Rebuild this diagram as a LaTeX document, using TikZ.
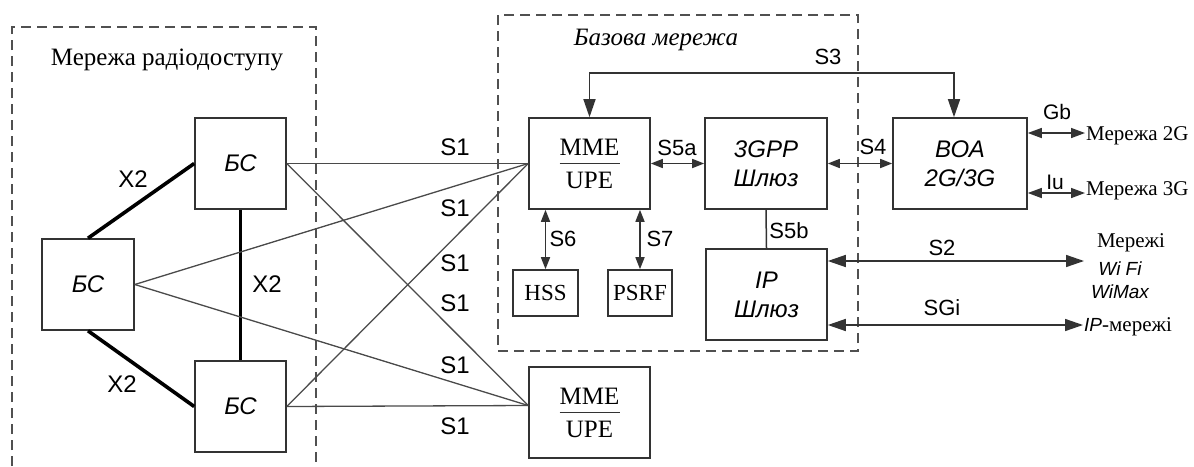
\documentclass[tikz,border=0pt]{standalone}
\usepackage{fontspec}
\setmainfont{Liberation Serif}
\newfontfamily\sansf{Liberation Sans}
\usetikzlibrary{arrows.meta,calc}
\definecolor{boxc}{HTML}{333333}
\definecolor{linec}{HTML}{4A4A4A}
\definecolor{dashc}{HTML}{505050}
\begin{document}
\begin{tikzpicture}[x=1pt,y=-1pt,
 box/.style={draw=boxc,line width=1.6pt,inner sep=0pt,align=center,font=\sansf\itshape\fontsize{24}{29}\selectfont},
 mbox/.style={draw=boxc,line width=1.6pt,inner sep=0pt,align=center,font=\fontsize{25}{33}\selectfont},
 sbox/.style={draw=boxc,line width=1.6pt,inner sep=0pt,font=\fontsize{23}{26}\selectfont},
 lbl/.style={font=\sansf\fontsize{22}{24}\selectfont,inner sep=0pt},
 s1lbl/.style={font=\sansf\fontsize{24}{26}\selectfont,inner sep=0pt},
 s1/.style={draw=linec,line width=1.3pt},
 x2/.style={draw=black,line width=3.6pt},
 link/.style={draw=boxc,line width=1.5pt},
 dbl/.style={link,{Triangle[length=12pt,width=9pt]}-{Triangle[length=12pt,width=9pt]}},
 dblL/.style={link,{Triangle[length=18pt,width=12pt]}-{Triangle[length=18pt,width=12pt]}},
 area/.style={draw=dashc,line width=1.8pt,dash pattern=on 10pt off 6pt},
 ntext/.style={font=\fontsize{21}{24}\selectfont,inner sep=1pt},
 itext/.style={font=\sansf\itshape\fontsize{19}{22}\selectfont,inner sep=1pt},
]
\useasboundingbox (0,0) rectangle (1194,466);
\fill[white] (0,0) rectangle (1194,466);

% areas
\draw[area] (12,466) -- (12,27) -- (316,27) -- (316,466);
\node[font=\fontsize{25}{28}\selectfont] (ran) at (167,60) {Мережа радіодоступу};
\draw[area] (498,15) rectangle (858,351);
\node[font=\itshape\fontsize{25}{28}\selectfont] (core) at (656,40) {Базова мережа};

% base stations
\node[box,minimum width=91pt,minimum height=91pt] (bs1) at (240.5,163.5) {БС};
\node[box,minimum width=92pt,minimum height=91pt] (bs2) at (88,284.5) {БС};
\node[box,minimum width=91pt,minimum height=91pt] (bs3) at (240.5,406.5) {БС};

% core nodes
\node[mbox,minimum width=121pt,minimum height=91pt] (mme1) at (589.5,163.5) {MME\\UPE};
\node[mbox,minimum width=121pt,minimum height=91pt] (mme2) at (589.5,412.5) {MME\\UPE};
\draw[line width=1.5pt,boxc] ([xshift=-30pt]mme1.center) -- ([xshift=30pt]mme1.center);
\draw[line width=1.5pt,boxc] ([xshift=-30pt]mme2.center) -- ([xshift=30pt]mme2.center);
\node[box,minimum width=122pt,minimum height=91pt] (gw3) at (766,163.5) {3GPP\\Шлюз};
\node[box,minimum width=121pt,minimum height=91pt] (ipgw) at (766.5,294.5) {IP\\Шлюз};
\node[box,minimum width=134pt,minimum height=91pt] (boa) at (960,163.5) {ВОА\\2G/3G};
\node[sbox,minimum width=65pt,minimum height=46pt] (hss) at (545.5,293) {HSS};
\node[sbox,minimum width=64pt,minimum height=46pt] (psrf) at (640,293) {PSRF};

% X2
\draw[x2] (bs2.north) -- (bs1.west);
\draw[x2] (bs1.south) -- (bs3.north);
\draw[x2] (bs2.south) -- (bs3.west);
\node[s1lbl] (x2a) at (133,179) {X2};
\node[s1lbl] (x2b) at (267,284) {X2};
\node[s1lbl] (x2c) at (122,384) {X2};

% S1
\coordinate (m2in) at ([yshift=7pt]mme2.west);
\draw[s1] (bs1.east) -- (mme1.west);
\draw[s1] (bs2.east) -- (mme1.west);
\draw[s1] (bs3.east) -- (mme1.west);
\draw[s1] (bs1.east) -- (m2in);
\draw[s1] (bs2.east) -- (m2in);
\draw[s1] (bs3.east) -- (m2in);
\foreach \yy/\nn in {147/a,208/b,263/c,303/d,365/e,426/f}{
  \node[s1lbl] (s1\nn) at (455,\yy) {S1};
}

% S3
\coordinate (s3a) at (589.5,73);
\coordinate (s3b) at (954,73);
\draw[link,{Triangle[length=18pt,width=12pt]}-{Triangle[length=18pt,width=12pt]}] (mme1.north) -- (s3a) -- (s3b) -- (s3b |- boa.north);
\node[lbl] (s3l) at (828,57) {S3};

% S5a, S4, S5b
\draw[dbl] (mme1.east) -- (gw3.west);
\node[lbl] (s5al) at (677,148) {S5a};
\draw[dbl] (gw3.east) -- (boa.west);
\node[lbl] (s4l) at (873,147) {S4};
\draw[link] (gw3.south) -- (ipgw.north);
\node[lbl] (s5bl) at (789,231) {S5b};

% S6, S7
\draw[dbl] (mme1.south -| hss.north) -- (hss.north);
\node[lbl] (s6l) at (563,239) {S6};
\draw[dbl] (mme1.south -| psrf.north) -- (psrf.north);
\node[lbl] (s7l) at (660,239) {S7};

% external networks
\node[ntext,anchor=west] (n2g) at (1085,136) {Мережа 2G};
\node[ntext,anchor=west] (n3g) at (1085,191) {Мережа 3G};
\draw[link,{Triangle[length=14pt,width=10pt]}-{Triangle[length=14pt,width=10pt]}] (boa.east |- 0,133) -- (n2g.west |- 0,133);
\node[lbl,font=\sansf\fontsize{21}{24}\selectfont] (gbl) at (1057,112) {Gb};
\draw[link,{Triangle[length=14pt,width=10pt]}-{Triangle[length=14pt,width=10pt]}] (boa.east |- 0,193) -- (n3g.west |- 0,193);
\node[lbl,font=\sansf\fontsize{21}{24}\selectfont] (iul) at (1055,182) {Iu};

\node[ntext] (nwm) at (1131,243) {Мережі};
\node[itext] (nwf) at (1120,269) {Wi Fi};
\node[itext] (nwx) at (1120,292) {WiMax};
\node[anchor=west,inner sep=1pt] (nip) at (1083,327) {{\sansf\itshape\fontsize{19}{22}\selectfont IP}{\fontsize{21}{24}\selectfont -мережі}};
\coordinate (s2e) at (1084,261);
\draw[dblL] (ipgw.east |- s2e) -- (s2e);
\node[lbl] (s2l) at (942,248) {S2};
\draw[dblL] (ipgw.east |- 0,325) -- (nip.west |- 0,325);
\node[lbl] (sgil) at (942,308) {SGi};
\end{tikzpicture}
\end{document}
